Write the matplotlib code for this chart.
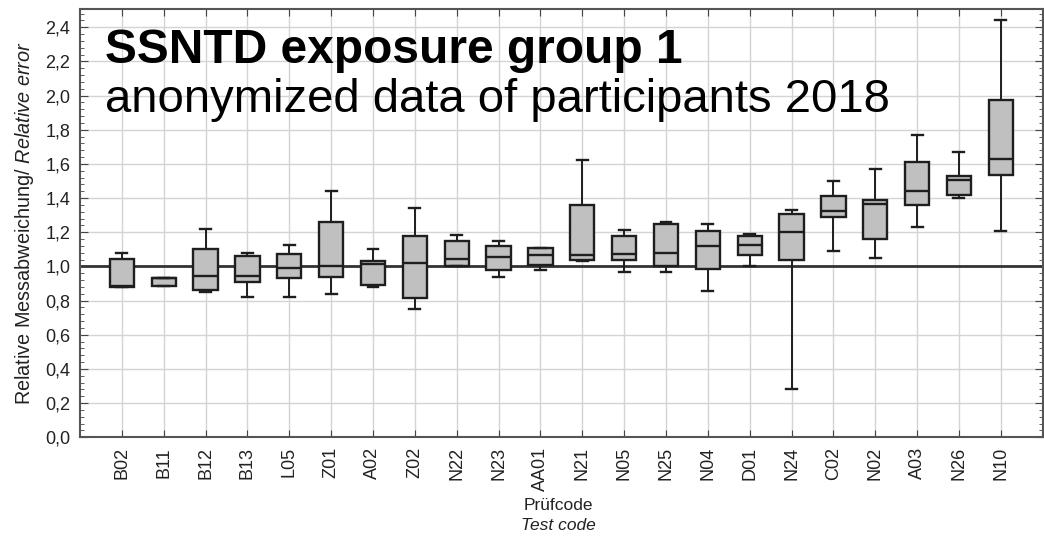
import numpy as np
import matplotlib
matplotlib.use("Agg")
import matplotlib.pyplot as plt
from matplotlib.ticker import FuncFormatter, MultipleLocator

plt.rcParams['font.family'] = ['Liberation Sans', 'DejaVu Sans']
plt.rcParams['mathtext.fontset'] = 'custom'
plt.rcParams['mathtext.rm'] = 'Liberation Sans'
plt.rcParams['mathtext.it'] = 'Liberation Sans:italic'

# Test codes, in plotting order
codes = ["B02", "B11", "B12", "B13", "L05", "Z01", "A02", "Z02", "N22", "N23", "AA01",
         "N21", "N05", "N25", "N04", "D01", "N24", "C02", "N02", "A03", "N26", "N10"]

# Box plot statistics (relative error)
whislo = [0.877, 0.887, 0.85, 0.82, 0.82, 0.84, 0.877, 0.75, 1.0, 0.94, 0.98,
          1.031, 0.965, 0.965, 0.857, 1.0, 0.285, 1.09, 1.05, 1.229, 1.399, 1.205]
q1 = [0.877, 0.887, 0.863, 0.908, 0.93, 0.94, 0.894, 0.818, 1.005, 0.978, 1.006,
      1.039, 1.039, 1.002, 0.984, 1.068, 1.039, 1.289, 1.158, 1.362, 1.42, 1.536]
med = [0.885, 0.93, 0.943, 0.943, 0.988, 1.0, 1.012, 1.02, 1.045, 1.057, 1.066,
       1.066, 1.074, 1.078, 1.121, 1.127, 1.199, 1.325, 1.368, 1.442, 1.508, 1.631]
q3 = [1.045, 0.932, 1.104, 1.059, 1.07, 1.262, 1.031, 1.18, 1.149, 1.12, 1.11,
      1.36, 1.178, 1.248, 1.209, 1.178, 1.307, 1.41, 1.387, 1.612, 1.532, 1.976]
whishi = [1.08, 0.932, 1.217, 1.08, 1.123, 1.44, 1.10, 1.34, 1.182, 1.15, 1.11,
          1.62, 1.211, 1.258, 1.248, 1.188, 1.328, 1.499, 1.571, 1.772, 1.671, 2.443]

stats = []
for i in range(len(codes)):
    stats.append(dict(label=codes[i], whislo=whislo[i], q1=q1[i], med=med[i],
                      q3=q3[i], whishi=whishi[i], fliers=[]))

fig = plt.figure(figsize=(10.44, 5.37), dpi=100)
ax = fig.add_axes([0.0766, 0.1857, 0.9221, 0.797])

pos = np.arange(len(codes))

# reference line at 1.0 drawn behind the boxes
ax.axhline(1.0, color="#333333", lw=2, zorder=1)

ax.bxp(stats, positions=pos, widths=0.58, capwidths=0.26, patch_artist=True,
       showfliers=False, manage_ticks=False,
       boxprops=dict(facecolor="#c0c0c0", edgecolor="#1e1e1e", linewidth=1.7),
       medianprops=dict(color="#1e1e1e", linewidth=1.7),
       whiskerprops=dict(color="#1e1e1e", linewidth=1.4),
       capprops=dict(color="#1e1e1e", linewidth=1.7),
       zorder=3)

ax.set_xlim(-1, len(codes))
ax.set_ylim(0, 2.505)
ax.set_xticks(pos)
ax.set_xticklabels(codes, rotation=90, fontsize=13)
ax.yaxis.set_major_locator(MultipleLocator(0.2))
ax.yaxis.set_minor_locator(MultipleLocator(0.04))
ax.yaxis.set_major_formatter(FuncFormatter(lambda v, p: f"{v:.1f}".replace(".", ",")))
ax.tick_params(axis="y", labelsize=13, direction="in", right=True, length=6,
               color="#444444", pad=7, labelcolor="#222222")
ax.tick_params(axis="y", which="minor", direction="in", right=True, length=3,
               color="#444444")
ax.tick_params(axis="x", direction="in", top=True, length=5, color="#444444", pad=7,
               labelcolor="#222222")

ax.grid(True, color="#d4d4d4", linewidth=1)
ax.set_axisbelow(True)
for s in ax.spines.values():
    s.set_color("#555555")
    s.set_linewidth(1.5)

ax.set_ylabel("Relative Messabweichung/ $\\mathit{Relative\\ error}$", fontsize=14.3,
              color="#222222")
ax.yaxis.set_label_coords(-0.046, 0.5)
fig.text(0.535, 0.058, "Prüfcode", ha="center", va="center", fontsize=12.5,
         color="#222222")
fig.text(0.535, 0.021, "Test code", ha="center", va="center", fontsize=12.5,
         style="italic", color="#222222")

ax.text(0.026, 0.874, "SSNTD exposure group 1", transform=ax.transAxes, fontsize=34.5,
        fontweight="bold", va="baseline", ha="left", zorder=5)
ax.text(0.026, 0.76, "anonymized data of participants 2018", transform=ax.transAxes,
        fontsize=34, va="baseline", ha="left", zorder=5)

fig.savefig("out.png", dpi=100)
